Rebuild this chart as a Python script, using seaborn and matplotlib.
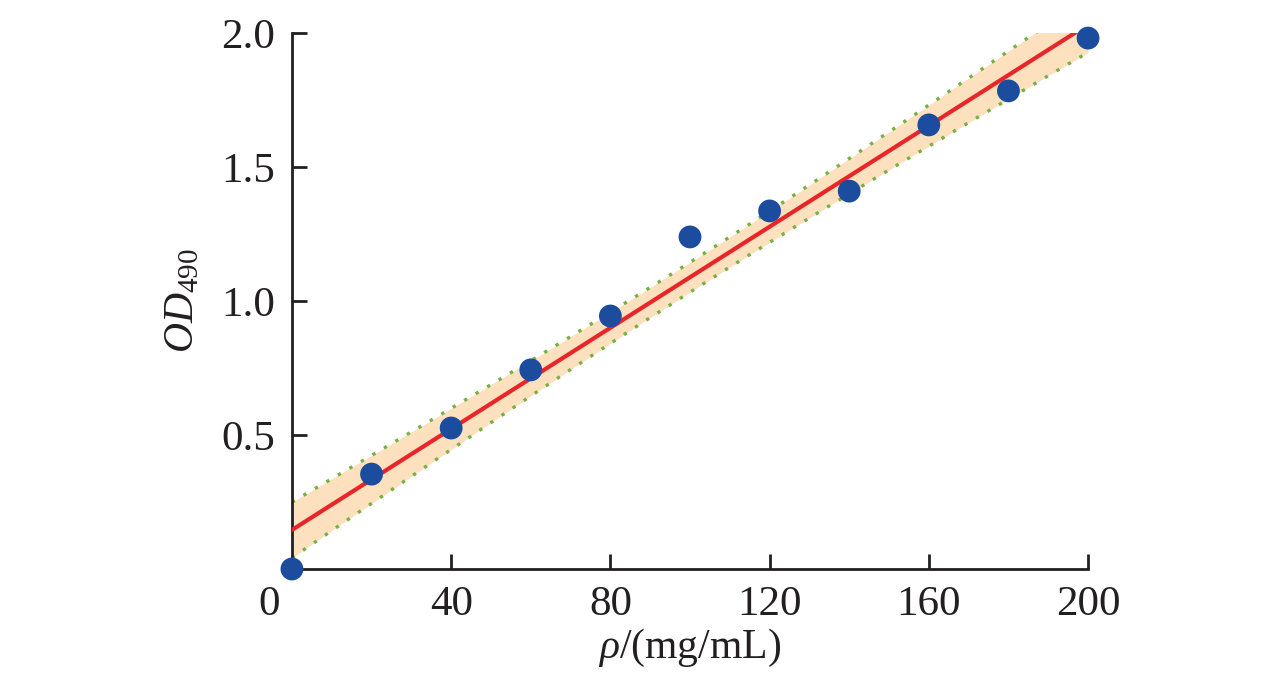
import numpy as np
import pandas as pd
import matplotlib
matplotlib.use("Agg")
import matplotlib.pyplot as plt
import matplotlib.transforms as mtransforms
import seaborn as sns

# ---- data ----
conc = [0, 20, 40, 60, 80, 100, 120, 140, 160, 180, 200]
od490 = [0.00, 0.354, 0.526, 0.743, 0.944, 1.239, 1.336, 1.41, 1.657, 1.784, 1.981]
x_ticks = [0, 40, 80, 120, 160, 200]
x_tick_labels = ["0", "40", "80", "120", "160", "200"]
y_ticks = [0.5, 1.0, 1.5, 2.0]
y_tick_labels = ["0.5", "1.0", "1.5", "2.0"]
T_CRIT = 2.262  # t(0.975, df=9)

df = pd.DataFrame({"conc": conc, "od": od490})

sns.set_style("white")
plt.rcParams["font.family"] = ["Liberation Serif", "DejaVu Serif"]
plt.rcParams["mathtext.fontset"] = "custom"
plt.rcParams["mathtext.rm"] = "Liberation Serif"
plt.rcParams["mathtext.it"] = "Liberation Serif:italic"
plt.rcParams["mathtext.bf"] = "Liberation Serif:bold"

fig = plt.figure(figsize=(12.76, 6.76), dpi=100)
ax = fig.add_axes([0.2288, 0.1583, 0.8527 - 0.2288, 0.9512 - 0.1583])

# confidence band of the linear fit
xa = np.asarray(conc, float)
ya = np.asarray(od490, float)
n = len(xa)
slope, intercept = np.polyfit(xa, ya, 1)
resid = ya - (intercept + slope * xa)
s = np.sqrt(np.sum(resid ** 2) / (n - 2))
sxx = np.sum((xa - xa.mean()) ** 2)
xg = np.linspace(0, 200, 300)
yg = intercept + slope * xg
half = T_CRIT * s * np.sqrt(1.0 / n + (xg - xa.mean()) ** 2 / sxx)
ax.fill_between(xg, yg - half, yg + half, color="#fde0bd", lw=0, zorder=1)
ax.plot(xg, yg + half, ls=(0, (1, 3)), color="#77b043", lw=2.4, zorder=2)
ax.plot(xg, yg - half, ls=(0, (1, 3)), color="#77b043", lw=2.4, zorder=2)

sns.regplot(data=df, x="conc", y="od", ax=ax, scatter=False, ci=None,
            line_kws={"color": "#e8262a", "lw": 3.0, "zorder": 3})
sns.scatterplot(data=df, x="conc", y="od", ax=ax, s=270, color="#1c4c9e",
                edgecolor="none", zorder=5, clip_on=False)

ax.set_xlim(0, 200)
ax.set_ylim(0, 2.0)
ax.set_xticks(x_ticks)
ax.set_xticklabels(x_tick_labels)
ax.set_yticks(y_ticks)
ax.set_yticklabels(y_tick_labels)
ax.tick_params(axis="both", direction="in", length=11, width=2, labelsize=31,
               colors="#231f20", bottom=True, left=True)
ax.tick_params(axis="x", pad=12)
ax.tick_params(axis="y", pad=12)

# shift the origin label left like the reference
lab0 = ax.get_xticklabels()[0]
lab0.set_transform(lab0.get_transform() +
                   mtransforms.ScaledTranslation(-23 / 100, 0, fig.dpi_scale_trans))

for side in ["top", "right"]:
    ax.spines[side].set_visible(False)
for side in ["left", "bottom"]:
    ax.spines[side].set_linewidth(2)
    ax.spines[side].set_color("#231f20")

ax.set_xlabel(r"$\rho$/(mg/mL)", fontsize=30, color="#231f20", labelpad=2)
ax.set_ylabel(r"$OD_{\mathrm{490}}$", fontsize=30, color="#231f20", labelpad=14)

fig.savefig("out.png", dpi=100, facecolor="white")
